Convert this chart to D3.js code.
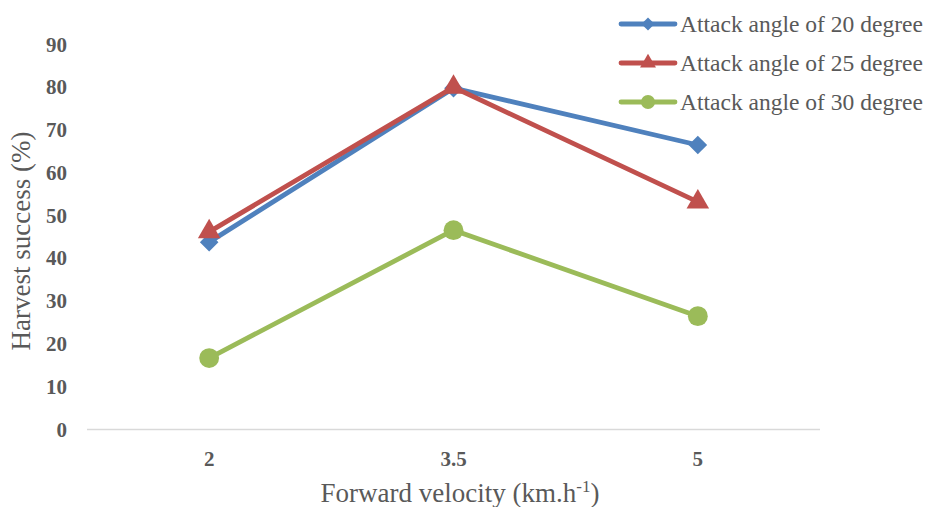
<!DOCTYPE html>
<html>
<head>
<meta charset="utf-8">
<script src="https://cdn.jsdelivr.net/npm/d3@7"></script>
<style>
  body { margin: 0; background: #fff; }
</style>
</head>
<body>
<svg id="chart" width="926" height="507"></svg>
<script>
const velocities = ["2", "3.5", "5"];
const yTicks = [0, 10, 20, 30, 40, 50, 60, 70, 80, 90];
const seriesNames = ["Attack angle of 20 degree", "Attack angle of 25 degree", "Attack angle of 30 degree"];
const angle20 = [43.8, 79.8, 66.5];
const angle25 = [46.2, 80.0, 53.2];
const angle30 = [16.7, 46.6, 26.5];

const FONT = "'Liberation Serif', 'DejaVu Serif', 'Times New Roman', serif";
const svg = d3.select("#chart")
    .attr("font-family", FONT);

const x = d3.scalePoint().domain(velocities).range([87, 820]).padding(0.5);
const y = d3.scaleLinear().domain([0, 90]).range([429.5, 44.5]);

const series = [
    { name: seriesNames[0], values: angle20, color: "#4F81BD", marker: d3.symbolDiamond2, size: 220 },
    { name: seriesNames[1], values: angle25, color: "#C0504D", marker: d3.symbolTriangle, size: 220 },
    { name: seriesNames[2], values: angle30, color: "#9BBB59", marker: d3.symbolCircle, size: 310 }
];

// x axis line
svg.append("line")
    .attr("x1", 87).attr("x2", 820)
    .attr("y1", y(0)).attr("y2", y(0))
    .attr("stroke", "#d9d9d9").attr("stroke-width", 1.3);

// y tick labels
svg.selectAll(".ytick")
    .data(yTicks)
    .enter().append("text")
    .attr("x", 67)
    .attr("y", d => y(d) + 7)
    .attr("text-anchor", "end")
    .attr("font-family", FONT)
    .attr("font-size", 21)
    .attr("font-weight", "bold")
    .attr("fill", "#595959")
    .text(d => d);

// x tick labels
svg.selectAll(".xtick")
    .data(velocities)
    .enter().append("text")
    .attr("x", d => x(d))
    .attr("y", 466)
    .attr("text-anchor", "middle")
    .attr("font-family", FONT)
    .attr("font-size", 21)
    .attr("font-weight", "bold")
    .attr("fill", "#595959")
    .text(d => d);

// axis titles
svg.append("text")
    .attr("transform", "translate(30,241) rotate(-90)")
    .attr("text-anchor", "middle")
    .attr("font-family", FONT)
    .attr("font-size", 27)
    .attr("fill", "#595959")
    .text("Harvest success (%)");

const xt = svg.append("text")
    .attr("x", 460)
    .attr("y", 502)
    .attr("text-anchor", "middle")
    .attr("font-family", FONT)
    .attr("font-size", 27)
    .attr("fill", "#595959");
xt.append("tspan").text("Forward velocity (km.h");
xt.append("tspan").attr("font-size", 17).attr("dy", -10).text("-1");
xt.append("tspan").attr("dy", 10).text(")");

const line = d3.line()
    .x((d, i) => x(velocities[i]))
    .y(d => y(d));

series.forEach(s => {
    svg.append("path")
        .attr("d", line(s.values))
        .attr("fill", "none")
        .attr("stroke", s.color)
        .attr("stroke-width", 4.8);

    svg.selectAll(null)
        .data(s.values)
        .enter().append("path")
        .attr("transform", (d, i) => `translate(${x(velocities[i])},${y(d)})`)
        .attr("d", d3.symbol().type(s.marker).size(s.size))
        .attr("fill", s.color);
});

// legend
series.forEach((s, i) => {
    const ly = 24 + i * 39;
    svg.append("line")
        .attr("x1", 621).attr("x2", 675)
        .attr("y1", ly).attr("y2", ly)
        .attr("stroke", s.color)
        .attr("stroke-width", 4.8)
        .attr("stroke-linecap", "round");
    svg.append("path")
        .attr("transform", `translate(648,${ly})`)
        .attr("d", d3.symbol().type(s.marker).size(s.size * 0.5))
        .attr("fill", s.color);
    const t = svg.append("text")
        .attr("x", 680)
        .attr("y", ly + 8)
        .attr("font-family", FONT)
        .attr("font-size", 24)
        .attr("fill", "#595959")
        .text(s.name);
    // keep the label inside the frame, whatever font width we get
    const w = t.node().getComputedTextLength();
    if (w > 243) t.attr("font-size", 24 * 243 / w);
});
</script>
</body>
</html>
